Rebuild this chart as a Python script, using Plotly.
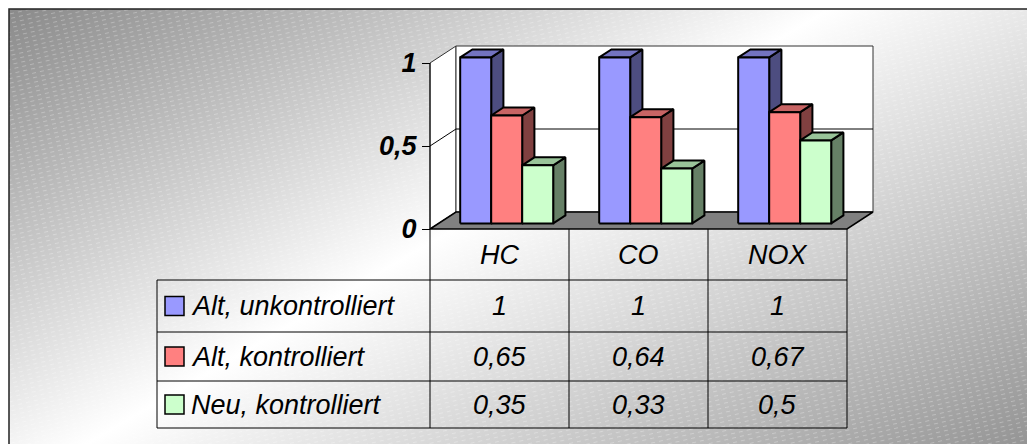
import base64
import plotly.graph_objects as go

# ---- data -------------------------------------------------------------
categories = ["HC", "CO", "NOX"]
series_names = ["Alt, unkontrolliert", "Alt, kontrolliert", "Neu, kontrolliert"]
alt_unkontrolliert = [1.0, 1.0, 1.0]
alt_kontrolliert = [0.65, 0.64, 0.67]
neu_kontrolliert = [0.35, 0.33, 0.5]
y_tick_values = [0, 0.5, 1]
y_tick_labels = ["0", "0,5", "1"]

series_values = [alt_unkontrolliert, alt_kontrolliert, neu_kontrolliert]
face_colors = [
    dict(front="#9999FF", top="#7373C0", side="#4D4D80"),
    dict(front="#FF8080", top="#C86464", side="#804040"),
    dict(front="#CCFFCC", top="#99C499", side="#668066"),
]

# ---- layout geometry (pixels) ----------------------------------------
W, H = 1027, 444
ORIGIN_X, ORIGIN_Y = 430, 229      # front-left corner of the floor
CAT_PX, UNIT_PX = 139, 166         # one category / one value unit
DEPTH_X_PX, DEPTH_Y_PX = 26, 17    # oblique depth of the walls
FONT = "Liberation Sans"


def ux(px):
    return (px - ORIGIN_X) / CAT_PX


def uy(py):
    return (ORIGIN_Y - py) / UNIT_PX


DX = DEPTH_X_PX / CAT_PX
DY = DEPTH_Y_PX / UNIT_PX
N = len(categories)
WALL_TOP = max(y_tick_values)

BAR_W = 31 / CAT_PX
GROUP_CENTER = 0.49
F0, F1 = 0.33, 0.80                # bar front / back depth fraction

fig = go.Figure()


def poly(xs, ys, fill, color="black", width=1.0):
    fig.add_trace(go.Scatter(
        x=list(xs) + [xs[0]], y=list(ys) + [ys[0]], mode="lines",
        fill="toself", fillcolor=fill, line=dict(color=color, width=width),
        hoverinfo="skip", showlegend=False))


def seg(xs, ys, color="black", width=1.0):
    fig.add_trace(go.Scatter(
        x=xs, y=ys, mode="lines", line=dict(color=color, width=width),
        hoverinfo="skip", showlegend=False))


# walls and floor
poly([0, 0, DX, DX], [0, WALL_TOP, WALL_TOP + DY, DY], "white", "#333333", 1)
poly([DX, N + DX, N + DX, DX], [DY, DY, WALL_TOP + DY, WALL_TOP + DY], "white", "#333333", 1)
for t in y_tick_values[1:-1]:
    seg([0, DX, N + DX], [t, t + DY, t + DY], "black", 1)
poly([0, N, N + DX, DX], [0, 0, DY, DY], "#808080", "black", 1.5)

# 3D bars, left to right so later front faces cover earlier side faces
for ci in range(N):
    start = ci + GROUP_CENTER - 1.5 * BAR_W
    for si, vals in enumerate(series_values):
        v = vals[ci]
        x0 = start + si * BAR_W
        x1 = x0 + BAR_W
        c = face_colors[si]
        a0x, a0y = F0 * DX, F0 * DY
        a1x, a1y = F1 * DX, F1 * DY
        poly([x1 + a0x, x1 + a1x, x1 + a1x, x1 + a0x],
             [a0y, a1y, v + a1y, v + a0y], c["side"], "black", 2)
        poly([x0 + a0x, x0 + a1x, x1 + a1x, x1 + a0x],
             [v + a0y, v + a1y, v + a1y, v + a0y], c["top"], "black", 2)
        poly([x0 + a0x, x1 + a0x, x1 + a0x, x0 + a0x],
             [a0y, a0y, v + a0y, v + a0y], c["front"], "black", 2)

# ---- data table below the chart --------------------------------------
TABLE_LEFT = ux(157)
row_edges = [uy(p) for p in (229, 280, 332, 381, 428)]
shapes = []


def line(x0, y0, x1, y1, color="black", width=1):
    shapes.append(dict(type="line", xref="x", yref="y", x0=x0, y0=y0,
                       x1=x1, y1=y1, line=dict(color=color, width=width)))


line(0, 0, 0, WALL_TOP)                       # value axis
for ci in range(N + 1):
    line(ci, row_edges[0], ci, row_edges[-1])
line(TABLE_LEFT, row_edges[1], TABLE_LEFT, row_edges[-1])
for r in row_edges[1:]:
    line(TABLE_LEFT, r, N, r)

annotations = []
text_font = dict(family=FONT, size=27, color="black", style="italic")
header_mid = (row_edges[0] + row_edges[1]) / 2
for ci, cat in enumerate(categories):
    annotations.append(dict(x=ci + 0.5, y=header_mid, xref="x", yref="y",
                            text=cat, showarrow=False, font=text_font))


def fmt(v):
    return f"{v:g}".replace(".", ",")


sq_half = 9.5 / UNIT_PX
for si, name in enumerate(series_names):
    mid = (row_edges[si + 1] + row_edges[si + 2]) / 2
    shapes.append(dict(type="rect", xref="x", yref="y",
                       x0=ux(165), x1=ux(184), y0=mid - sq_half, y1=mid + sq_half,
                       fillcolor=face_colors[si]["front"],
                       line=dict(color="black", width=1.5)))
    annotations.append(dict(x=ux(189), y=mid, xref="x", yref="y", text=name,
                            xanchor="left", showarrow=False, font=text_font))
    for ci in range(N):
        annotations.append(dict(x=ci + 0.5, y=mid, xref="x", yref="y",
                                text=fmt(series_values[si][ci]),
                                showarrow=False, font=text_font))

# frame around the chart area
shapes.append(dict(type="rect", xref="paper", yref="paper",
                   x0=9 / W, x1=1.05, y0=-0.05, y1=1 - 9 / H,
                   line=dict(color="#222222", width=1.5), layer="above"))

# ---- gradient background with fine diagonal hatching -----------------
BW, BH = W - 9, H - 9
svg = f"""<svg xmlns="http://www.w3.org/2000/svg" width="{BW}" height="{BH}" viewBox="0 0 {BW} {BH}" preserveAspectRatio="none">
<defs>
<linearGradient id="g" gradientUnits="userSpaceOnUse" x1="0" y1="0" x2="455" y2="778">
<stop offset="0" stop-color="#8a8a8a"/>
<stop offset="0.46" stop-color="#ffffff"/>
<stop offset="1" stop-color="#929292"/>
</linearGradient>
<pattern id="p" patternUnits="userSpaceOnUse" width="8" height="4.5" patternTransform="rotate(-13)">
<rect x="0" y="0" width="4" height="1" fill="#ffffff" fill-opacity="0.28"/>
</pattern>
</defs>
<rect width="{BW}" height="{BH}" fill="url(#g)"/>
<rect width="{BW}" height="{BH}" fill="url(#p)"/>
</svg>"""
bg_src = "data:image/svg+xml;base64," + base64.b64encode(svg.encode()).decode()

fig.update_layout(
    width=W, height=H, autosize=False,
    margin=dict(l=0, r=0, t=0, b=0, pad=0),
    paper_bgcolor="white", plot_bgcolor="rgba(0,0,0,0)",
    showlegend=False,
    images=[dict(source=bg_src, xref="paper", yref="paper",
                 x=9 / W, y=1 - 9 / H, sizex=1 - 9 / W, sizey=1 - 9 / H,
                 xanchor="left", yanchor="top", sizing="stretch", layer="below")],
    xaxis=dict(range=[ux(0), ux(W)], domain=[0, 1], visible=False, fixedrange=True),
    yaxis=dict(range=[uy(H), uy(0)], domain=[0, 1], anchor="free",
               position=ORIGIN_X / W, tickvals=y_tick_values, ticktext=y_tick_labels,
               ticks="outside", ticklen=8, tickcolor="black", tickwidth=1,
               showgrid=False, zeroline=False, showline=False, fixedrange=True,
               tickfont=dict(family=FONT, size=27, color="black",
                             weight="bold", style="italic")),
    shapes=shapes, annotations=annotations,
)

fig.write_html("out.html")
